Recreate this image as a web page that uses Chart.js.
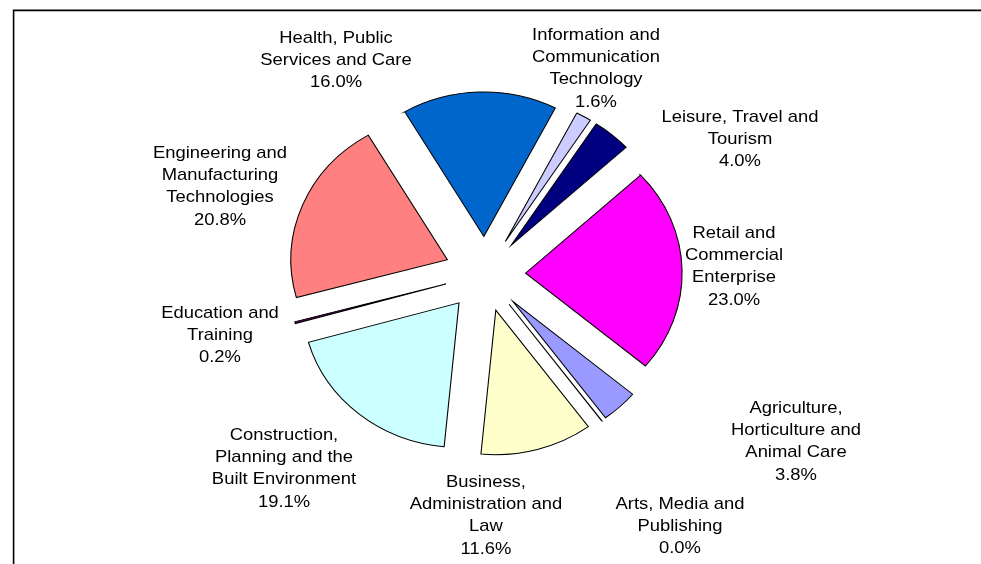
<!DOCTYPE html>
<html><head><meta charset="utf-8">
<script src="https://cdn.jsdelivr.net/npm/chart.js@4.4.1/dist/chart.umd.min.js"></script>
<style>html,body{margin:0;padding:0;background:#fff;overflow:hidden}canvas{display:block}</style>
</head><body>
<canvas id="c" width="981" height="564" style="width:981px;height:564px"></canvas>
<script>
// ---- data ----
const categories = [
  ['Agriculture,', 'Horticulture and', 'Animal Care'],
  ['Arts, Media and', 'Publishing'],
  ['Business,', 'Administration and', 'Law'],
  ['Construction,', 'Planning and the', 'Built Environment'],
  ['Education and', 'Training'],
  ['Engineering and', 'Manufacturing', 'Technologies'],
  ['Health, Public', 'Services and Care'],
  ['Information and', 'Communication', 'Technology'],
  ['Leisure, Travel and', 'Tourism'],
  ['Retail and', 'Commercial', 'Enterprise']
];
const shares = [3.8, 0.02, 11.6, 19.1, 0.2, 20.8, 16.0, 1.6, 4.0, 23.0];
const sliceColors = ['#9999FF', '#993366', '#FFFFCC', '#CCFFFF', '#660066',
                     '#FF8080', '#0066CC', '#CCCCFF', '#000080', '#FF00FF'];

// ---- layout ----
const PIE = { cx: 485, cy: 274, r: 144.5, explode: 37.5, stretchX: 1.083, rotation: 130 };
const labelAnchors = [ // centre x, middle of first line y
  [796, 408], [680, 504], [486, 482], [284, 435], [220, 313],
  [220, 153], [336, 38], [596, 35], [740, 117], [734, 233]
];
const LABEL_FONT = '17px "Liberation Sans", Arial, sans-serif';
const LINE_H = 22.4;

const explodePlugin = {
  id: 'explode',
  afterDatasetsUpdate(chart) {
    chart.getDatasetMeta(0).data.forEach(arc => {
      const mid = (arc.startAngle + arc.endAngle) / 2;
      arc.x += Math.cos(mid) * PIE.explode;
      arc.y += Math.sin(mid) * PIE.explode;
    });
  },
  beforeDatasetsDraw(chart) {
    const ctx = chart.ctx;
    ctx.save();
    ctx.translate(PIE.cx, 0);
    ctx.scale(PIE.stretchX, 1);
    ctx.translate(-PIE.cx, 0);
  },
  afterDatasetsDraw(chart) { chart.ctx.restore(); }
};

const framePlugin = {
  id: 'frame',
  beforeDraw(chart) {
    const ctx = chart.ctx;
    ctx.save();
    ctx.fillStyle = '#fff';
    ctx.fillRect(0, 0, chart.width, chart.height);
    ctx.strokeStyle = '#000';
    ctx.lineWidth = 1.6;
    ctx.beginPath();
    ctx.moveTo(13.6, chart.height);
    ctx.lineTo(13.6, 10.4);
    ctx.lineTo(chart.width, 10.4);
    ctx.stroke();
    ctx.restore();
  }
};

const labelPlugin = {
  id: 'sliceLabels',
  afterDraw(chart) {
    const ctx = chart.ctx;
    const labels = chart.data.labels;
    const vals = chart.data.datasets[0].data;
    ctx.save();
    ctx.font = LABEL_FONT;
    ctx.fillStyle = '#000';
    ctx.textAlign = 'center';
    ctx.textBaseline = 'middle';
    labels.forEach((lines, i) => {
      const all = lines.concat([vals[i].toFixed(1) + '%']);
      const [ax, ay] = labelAnchors[i];
      all.forEach((t, k) => {
        ctx.save();
        ctx.translate(ax, ay + k * LINE_H);
        ctx.scale(PIE.stretchX, 1);
        ctx.fillText(t, 0, 0);
        ctx.restore();
      });
    });
    ctx.restore();
  }
};

new Chart(document.getElementById('c'), {
  type: 'pie',
  data: {
    labels: categories,
    datasets: [{
      data: shares,
      backgroundColor: sliceColors,
      borderColor: '#000',
      borderWidth: 1,
      borderJoinStyle: 'miter',
      clip: false
    }]
  },
  options: {
    responsive: false,
    animation: false,
    events: [],
    rotation: PIE.rotation,
    radius: PIE.r,
    layout: { padding: { left: 0, top: 0, right: 981 - 2 * PIE.cx, bottom: 564 - 2 * PIE.cy } },
    plugins: { legend: { display: false }, tooltip: { enabled: false } }
  },
  plugins: [framePlugin, explodePlugin, labelPlugin]
});
</script>
</body></html>
